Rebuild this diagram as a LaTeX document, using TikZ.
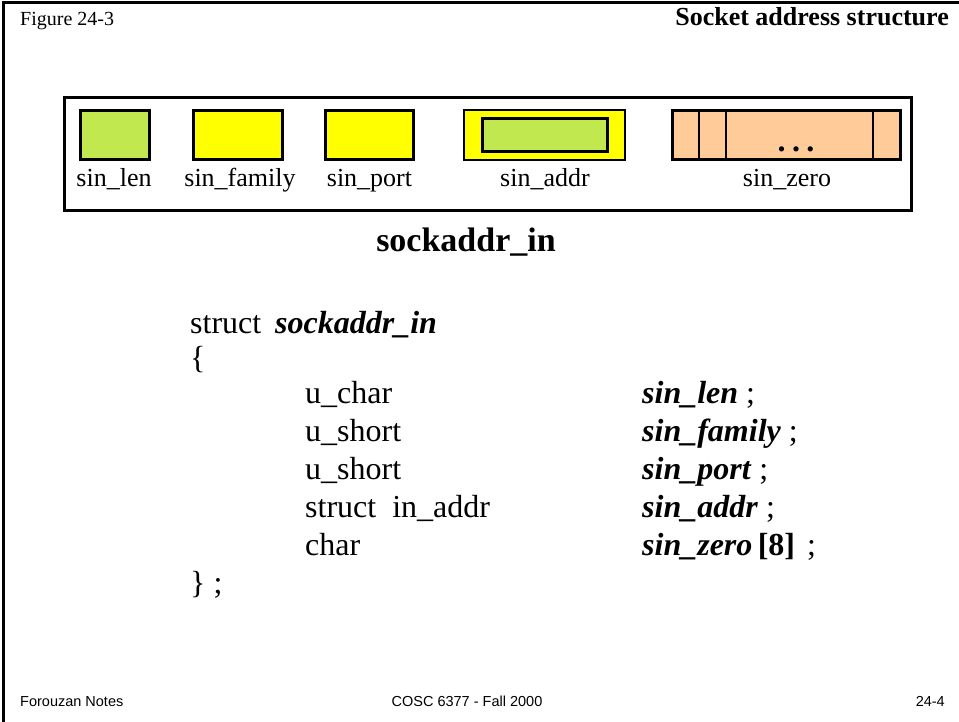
\documentclass[tikz,border=0pt]{standalone}
\usepackage{fontspec}
\setmainfont{Liberation Serif}
\setsansfont{Liberation Sans}
\usepackage{tikz}
\usetikzlibrary{positioning}
\definecolor{lengreen}{RGB}{194,232,80}
\definecolor{fieldyellow}{RGB}{255,255,0}
\definecolor{zeropeach}{RGB}{255,204,153}

\begin{document}
\begin{tikzpicture}[x=1pt,y=-1pt,
    field/.style={draw,line width=3pt,minimum height=49pt,inner sep=0pt},
    fieldname/.style={font=\fontsize{26}{28}\selectfont,inner sep=0pt,anchor=base},
    codeline/.style={font=\fontsize{32}{34}\selectfont,inner sep=0pt,anchor=base west},
    member/.style={font=\fontsize{32}{34}\selectfont\bfseries\itshape,inner sep=0pt,anchor=base west},
    foot/.style={font=\sffamily\fontsize{14.5}{16}\selectfont,inner sep=0pt,anchor=base}]
            \useasboundingbox (0,0) rectangle (959,722);
            \draw[line width=3pt] (3,722) -- (3,3) -- (959,3);

            \node[inner sep=0pt,anchor=base west,font=\fontsize{20}{22}\selectfont] (fig) at (20,26) {Figure 24-3};
            \node[inner sep=0pt,anchor=base east,font=\fontsize{26}{28}\selectfont\bfseries] (title) at (949,26) {Socket address structure};

            \node[draw,line width=3pt,minimum width=847pt,minimum height=113pt] (outer) at (488,154) {};
            \node[field,fill=lengreen,minimum width=69pt] (len) at (115,135) {};
            \node[field,fill=fieldyellow,minimum width=89pt] (family) at (238,135) {};
            \node[field,fill=fieldyellow,minimum width=88pt] (port) at (369.5,135) {};
            \node[field,fill=fieldyellow,line width=2pt,minimum width=161pt,minimum height=50pt] (addr) at (544.5,135) {};
            \node[field,fill=lengreen,minimum width=125pt,minimum height=33pt] (addrin) at (addr) {};
            \node[field,fill=zeropeach,line width=2.5pt,minimum width=228pt] (zero) at (786.5,135) {};
            \draw[line width=2.5pt] (699,111) -- (699,159);
            \draw[line width=2.5pt] (726,111) -- (726,159);
            \draw[line width=2.5pt] (873,111) -- (873,159);
            \node[fieldname,font=\fontsize{32}{34}\selectfont\bfseries] (dots) at (796,152) {.\hspace{6.5pt}.\hspace{6.5pt}.};

            \node[fieldname] (lenname) at (114,187) {sin\_len};
            \node[fieldname] (familyname) at (240,187) {sin\_family};
            \node[fieldname] (portname) at (369.5,187) {sin\_port};
            \node[fieldname] (addrname) at (545,187) {sin\_addr};
            \node[fieldname] (zeroname) at (787,187) {sin\_zero};

            \node[inner sep=0pt,anchor=base,font=\fontsize{34}{36}\selectfont\bfseries] (heading) at (466,252) {sockaddr\_in};

            \node[codeline] (struct) at (190,333) {struct};
            \node[member] (sname) at (275,333) {sockaddr\_in};
            \node[codeline] (open) at (190,368) {\{};
            \node[codeline] (t1) at (305,403) {u\_char};
            \node[codeline] (t2) at (305,441) {u\_short};
            \node[codeline] (t3) at (305,479) {u\_short};
            \node[codeline] (t4) at (305,517) {struct\ \ in\_addr};
            \node[codeline] (t5) at (305,555) {char};
            \node[member] (m1) at (642,403) {sin\_len\textnormal{\ ;}};
            \node[member] (m2) at (642,441) {sin\_family\textnormal{\ ;}};
            \node[member] (m3) at (642,479) {sin\_port\textnormal{\ ;}};
            \node[member] (m4) at (642,517) {sin\_addr\textnormal{\ ;}};
            \node[member] (m5) at (642,555) {sin\_zero\,\textup{[8]}\textnormal{\hspace{12pt};}};
            \node[codeline] (close) at (190,593) {\}\ ;};

            \node[foot,anchor=base west] (notes) at (20,706) {Forouzan Notes};
            \node[foot] (course) at (467,706) {COSC 6377 - Fall 2000};
            \node[foot,anchor=base east] (page) at (945,706) {24-4};
        \end{tikzpicture}
\end{document}
